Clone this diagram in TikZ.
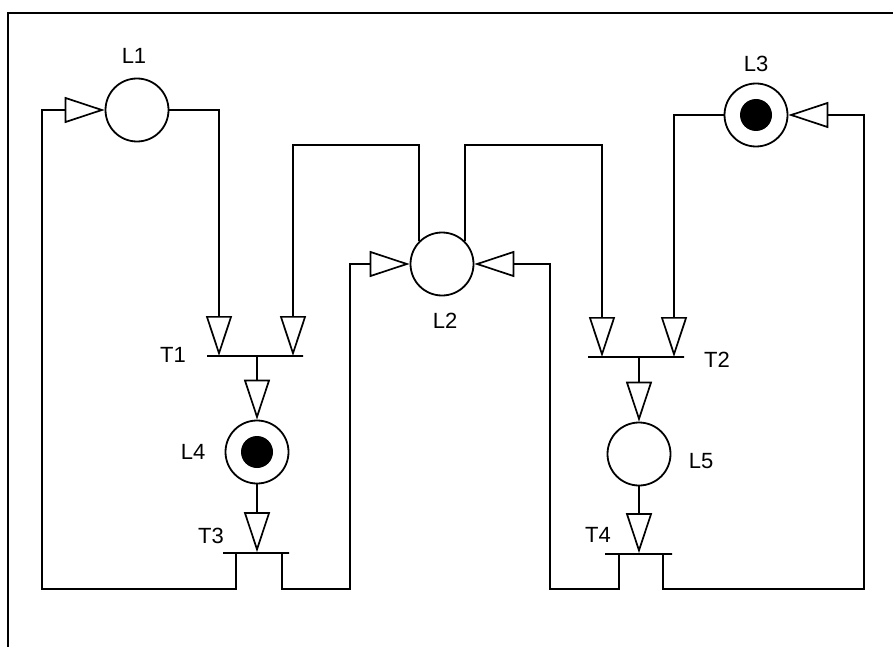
\documentclass[tikz,border=0pt]{standalone}
\usepackage{fontspec}
\setmainfont{Liberation Sans}
\usetikzlibrary{arrows.meta}
\begin{document}
\begin{tikzpicture}[x=1pt,y=-1pt,
  line width=1.7pt,
  place/.style={circle,draw,line width=1.8pt,minimum size=63pt,inner sep=0pt},
  token/.style={circle,fill=black,minimum size=32pt,inner sep=0pt},
  bar/.style={rectangle,draw,line width=1.7pt,minimum height=0pt,inner sep=0pt},
  lbl/.style={font=\fontsize{22}{26}\selectfont,inner sep=0pt},
  arr/.style={-{Triangle[open,length=40pt,width=26pt]}}]
\useasboundingbox (0,0) rectangle (893,647);
% frame
\draw[line width=1.6pt] (8,647) -- (8,13) -- (893,13);
% places
\node[place] (L1) at (137,110) {};
\node[place] (L2) at (442,264) {};
\node[place] (L3) at (756,115) {};
\node[place] (L4) at (257,452) {};
\node[place] (L5) at (639,454) {};
\node[token] (K3) at (L3) {};
\node[token] (K4) at (L4) {};
% transitions
\node[bar,minimum width=96pt] (T1) at (255,356) {};
\node[bar,minimum width=96pt] (T2) at (636,357) {};
\node[bar,minimum width=66pt] (T3) at (256,553) {};
\node[bar,minimum width=67pt] (T4) at (638.5,554) {};
% helper coordinates
\coordinate (T1a) at (219,356);
\coordinate (T1b) at (293,356);
\coordinate (T2a) at (602,357);
\coordinate (T2b) at (674,357);
\coordinate (T3l) at (236,553);
\coordinate (T3r) at (282,553);
\coordinate (T4l) at (619,554);
\coordinate (T4r) at (663,554);
\coordinate (bL) at (42,589);
\coordinate (bM1) at (350,589);
\coordinate (bM2) at (550,589);
\coordinate (bR) at (864,589);
\coordinate (tL) at (293,145);
\coordinate (tR) at (602,145);
% labels
\node[lbl] (nL1) at (134,56) {L1};
\node[lbl] (nL2) at (445,321) {L2};
\node[lbl] (nL3) at (756,64) {L3};
\node[lbl] (nL4) at (193,452) {L4};
\node[lbl] (nL5) at (701,461) {L5};
\node[lbl] (nT1) at (173,355) {T1};
\node[lbl] (nT2) at (717,360) {T2};
\node[lbl] (nT3) at (211,536) {T3};
\node[lbl] (nT4) at (598,535) {T4};
% connectors
\draw[arr] (L1.east) -| (T1a);
\draw[arr] (L2.135) |- (tL) -- (T1b);
\draw[arr] (L2.45) |- (tR) -- (T2a);
\draw[arr] (L3.west) -| (T2b);
\draw[arr] (T1.south -| L4) -- (L4.north);
\draw[arr] (L4.south) -- (T3.north -| L4);
\draw[arr] (T2.south -| L5) -- (L5.north);
\draw[arr] (L5.south) -- (T4.north -| L5);
\draw[arr] (T3l) |- (bL) |- (L1.west);
\draw[arr] (T3r) |- (bM1) |- (L2.west);
\draw[arr] (T4l) |- (bM2) |- (L2.east);
\draw[arr] (T4r) |- (bR) |- (L3.east);
\end{tikzpicture}
\end{document}
